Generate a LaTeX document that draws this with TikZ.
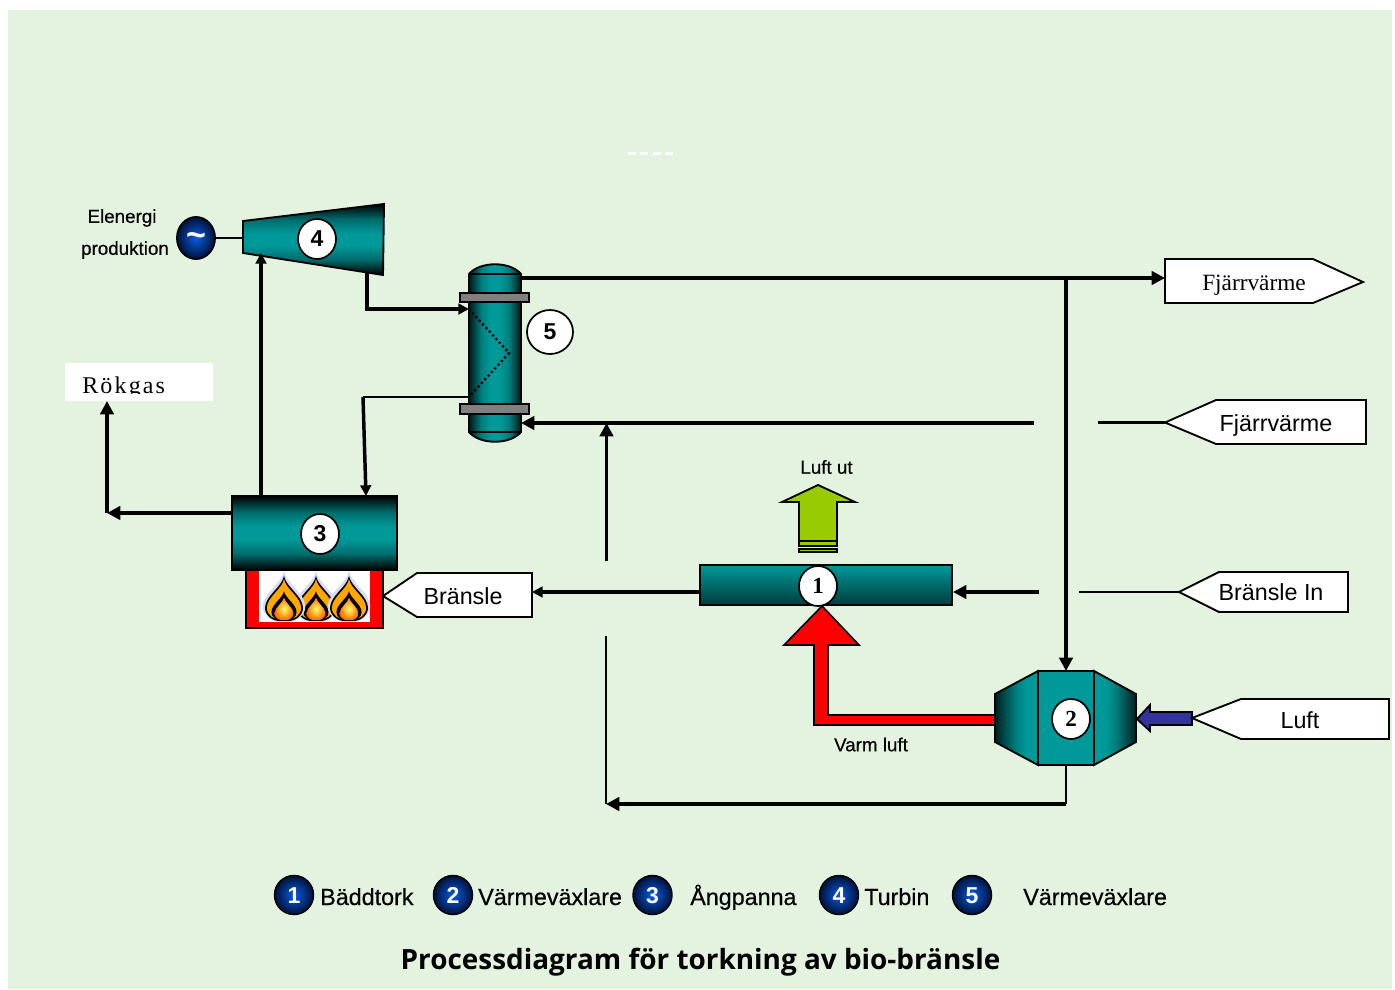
\documentclass[tikz,border=0pt]{standalone}
\usepackage{fontspec}
\usetikzlibrary{arrows.meta,shapes.geometric,calc}
\setmainfont{Liberation Sans}
\newfontfamily\heavyf[FakeBold=0.4]{Liberation Sans}
\newfontfamily\serifx{Liberation Serif}
\newfontfamily\rokf[LetterSpace=9]{Liberation Serif}
\newfontfamily\titlef{Open Sans}
\newcommand{\fpx}[1]{\pgfmathparse{#1*0.75}\fontsize{\pgfmathresult}{\pgfmathresult}\selectfont}
\newcommand{\legnum}[1]{\raisebox{-6.6pt}[0pt][0pt]{#1}}
\definecolor{bgc}{HTML}{E4F3E0}
\definecolor{tealc}{HTML}{009999}
\definecolor{dteal}{HTML}{003C3C}
\definecolor{limec}{HTML}{99CC00}
\definecolor{navyc}{HTML}{333399}
\definecolor{ballin}{HTML}{0A5AE0}
\definecolor{ballout}{HTML}{00123A}
\pgfdeclareverticalshading{tbband}{100bp}{color(0bp)=(black);color(25bp)=(black);color(36bp)=(teal!85!black);color(46bp)=(tealc);color(54bp)=(tealc);color(64bp)=(teal!85!black);color(75bp)=(black);color(100bp)=(black)}
\pgfdeclarehorizontalshading{lrband}{100bp}{color(0bp)=(black!80!teal);color(25bp)=(black!80!teal);color(37bp)=(teal);color(46bp)=(tealc);color(54bp)=(tealc);color(63bp)=(teal);color(75bp)=(black!80!teal);color(100bp)=(black!80!teal)}
\pgfdeclarehorizontalshading{outL}{100bp}{color(0bp)=(black!75!teal);color(25bp)=(black!75!teal);color(50bp)=(teal);color(62bp)=(tealc);color(100bp)=(tealc)}
\pgfdeclarehorizontalshading{outR}{100bp}{color(0bp)=(tealc);color(38bp)=(tealc);color(50bp)=(teal);color(75bp)=(black!75!teal);color(100bp)=(black!75!teal)}
\tikzset{
  x=0.75pt,y=-0.75pt,
  pipe/.style={draw=black,line width=2.8pt},
  pipeh/.style={pipe,-{Triangle[length=10pt,width=10pt]}},
  pipes/.style={pipe,line width=2.6pt,-{Triangle[length=8pt,width=8pt]}},
  thin pipe/.style={draw=black,line width=1.6pt},
  outl/.style={draw=black,line width=1.4pt,line join=miter},
  numball/.style={ellipse,draw=black,line width=1.3pt,fill=white,inner sep=0pt,minimum width=38*0.75pt,minimum height=40*0.75pt},
  numsans/.style={numball,font=\bfseries\fpx{23}},
  numserif/.style={numball,font=\serifx\bfseries\fpx{23}},
  legball/.style={circle,draw=black,line width=1.1pt,inner sep=0pt,minimum size=39*0.75pt,shading=radial,inner color=ballin,outer color=ballout,text=white,font=\bfseries\fpx{23}},
  tagtext/.style={font=\fpx{23.3},inner sep=0pt},
  tagserif/.style={font=\serifx\fpx{23.3},inner sep=0pt},
  small/.style={font=\heavyf\fpx{18.8},inner sep=0pt},
  legtext/.style={font=\heavyf\fpx{23.3},inner sep=0pt,anchor=base west},
  tagbox/.style={draw=black,line width=1.4pt,fill=white,line join=miter},
  flame/.pic={
    \def\flpath{(0,-23) .. controls (2,-12) and (19,-3) .. (19,9) .. controls (19,17) and (10,22) .. (6,22) -- (-6,22) .. controls (-10,22) and (-19,17) .. (-19,9) .. controls (-19,-3) and (-2,-12) .. (0,-23) -- cycle}
    \begin{scope}[scale=1.12,shift={(0,-2)}]\fill[cyan!30!blue!15!white] \flpath;\end{scope}
    \fill[black] \flpath;
    \begin{scope}[scale=.9,shift={(0,1)}]\fill[orange!70!yellow] \flpath;\end{scope}
    \begin{scope}[scale=.66,shift={(0,11)}]\fill[black] \flpath;\end{scope}
    \begin{scope}[scale=.5,shift={(0,20)}]\shade[inner color=yellow!60,outer color=orange!85!red] \flpath;\end{scope}
  }
}
\begin{document}
\begin{tikzpicture}
\useasboundingbox (0,0) rectangle (1395,989);
\fill[white] (0,0) rectangle (1395,989);
\fill[bgc] (8,10) rectangle (1392,989);
% faint white dashes
\foreach \a/\b in {628/636,640/648,653/661,665/673}{\fill[white] (\a,152) rectangle (\b,154.5);}

% ports
\coordinate (gR) at (216,238);
\coordinate (tL) at (243,238);
\coordinate (tOut) at (367,273);
\coordinate (tOutC) at (367,309);
\coordinate (hxIn) at (469,309);
\coordinate (tIn) at (261,253);
\coordinate (bTopL) at (261,496);
\coordinate (bTopR) at (366,496);
\coordinate (bL) at (232,513);
\coordinate (flueC) at (107,513);
\coordinate (rok) at (107,401);
\coordinate (hxOutL) at (469,397);
\coordinate (condC) at (363,397);
\coordinate (hxTop) at (521,278);
\coordinate (fjTip) at (1165,278);
\coordinate (branch) at (1066,278);
\coordinate (h2Top) at (1066,671);
\coordinate (h2Bot) at (1066,765);
\coordinate (h2BotC) at (1066,804);
\coordinate (retC) at (606,804);
\coordinate (retTop) at (606,636);
\coordinate (upBot) at (606.5,561);
\coordinate (upTop) at (606.5,423);
\coordinate (hxRet) at (521,423);
\coordinate (gapL) at (1034,423);
\coordinate (gapR) at (1098,422.5);
\coordinate (fjInTip) at (1165,422.5);
\coordinate (dL) at (699,592);
\coordinate (brEnd) at (532,592);
\coordinate (dR) at (953,592);
\coordinate (gap2L) at (1039,592);
\coordinate (gap2R) at (1079,592);
\coordinate (brInTip) at (1179,592);

% Rökgas
\fill[white] (65,363) rectangle (213,401);
\begin{scope}
\clip (65,363) rectangle (213,393);
\node[font=\rokf\fpx{24},anchor=base west,inner sep=0pt] (rokgas) at (82,393.5) {Rökgas};
\end{scope}

% turbine
\path[shading=tbband] (243,221) -- (384,204) -- (383,275) -- (243,253) -- cycle;
\draw[outl] (243,221) -- (384,204) -- (383,275) -- (243,253) -- cycle;
\node[numsans] (n4) at (317,239) {4};
% generator
\node[ellipse,draw=black,line width=1.4pt,minimum width=38*0.75pt,minimum height=42*0.75pt,inner sep=0pt,shading=radial,inner color=ballin,outer color=ballout,text=white,font=\bfseries\fpx{34}] (gen) at (196,238) {\raisebox{-6.5pt}[0pt][0pt]{\char"007E}};
\node[small] (el1) at (122,218) {Elenergi};
\node[small] (el2) at (125,250) {produktion};

% boiler & furnace
\draw[line width=1.5pt,draw=black,fill=red] (246,568) rectangle (383,628);
\fill[white] (259,569) rectangle (370,622);
\begin{scope}
\clip (259,569) rectangle (370,622);
\pic at (316,599) {flame};
\pic at (284,599) {flame};
\pic at (349,599) {flame};
\end{scope}
\node[rectangle,draw=black,line width=1.6pt,shading=tbband,minimum width=165*0.75pt,minimum height=74*0.75pt,inner sep=0pt] (boiler) at (314.5,533) {};
\node[numsans] (n3) at (320,534) {3};

% heat exchanger 5
\path[shading=lrband] (469,274) .. controls (480,261) and (510,261) .. (521,274) -- (521,432) .. controls (510,445) and (480,445) .. (469,432) -- cycle;
\draw[outl] (469,274) .. controls (480,261) and (510,261) .. (521,274) -- (521,432) .. controls (510,445) and (480,445) .. (469,432) -- cycle;
\draw[outl] (469,274) -- (521,274) (469,432) -- (521,432);
\draw[outl,fill=black!50] (460,293) rectangle (529,302);
\draw[outl,fill=black!50] (460,404) rectangle (529,414);
\draw[line width=1.7pt,dotted] (469,309) -- (509,353) -- (469,397);
\node[numsans,minimum width=46*0.75pt,minimum height=44*0.75pt] (n5) at (550,332) {5};

% dryer
\node[rectangle,draw=black,line width=1.5pt,top color=tealc,bottom color=dteal,minimum width=252.5*0.75pt,minimum height=40*0.75pt,inner sep=0pt] (dryer) at (826.2,585) {};
% green arrow
\draw[outl,fill=limec] (818,485) -- (855,502) -- (837,502) -- (837,541) -- (799,541) -- (799,502) -- (782,502) -- cycle;
\draw[outl,fill=limec] (799,541) rectangle (837,546);
\draw[outl,fill=limec] (799,549) rectangle (837,552);
\node[small] (lu) at (826.5,467) {Luft ut};
% red arrow
\draw[outl,line width=1.2pt,fill=red] (822,606) -- (859,645) -- (828,645) -- (828,715) -- (996,715) -- (996,725) -- (814,725) -- (814,645) -- (784,645) -- cycle;
\node[numserif] (n1) at (818,586) {1};
\node[small] (vl) at (871,744.5) {Varm luft};

% heat exchanger 2
\path[shading=outL] (1038,671) -- (995,694) -- (995,742) -- (1038,765) -- cycle;
\draw[outl] (1038,671) -- (995,694) -- (995,742) -- (1038,765) -- cycle;
\path[shading=outR] (1094,671) -- (1136,694) -- (1136,742) -- (1094,765) -- cycle;
\draw[outl] (1094,671) -- (1136,694) -- (1136,742) -- (1094,765) -- cycle;
\node[rectangle,draw=black,line width=1.4pt,fill=tealc,minimum width=56*0.75pt,minimum height=94*0.75pt,inner sep=0pt] (hx2) at (1066,718) {};
\node[numserif] (n2) at (1071,719) {2};
% blue arrow
\draw[outl,fill=navyc] (1137,719) -- (1150,705) -- (1150,712) -- (1192,712) -- (1192,725) -- (1150,725) -- (1150,731) -- cycle;

% tags
\draw[tagbox] (1165,259) -- (1313,259) -- (1363,282) -- (1313,303) -- (1165,303) -- cycle;
\node[tagserif] (t1) at (1254,285) {Fjärrvärme};
\draw[tagbox] (1165,422.5) -- (1216,400) -- (1366,400) -- (1366,444) -- (1216,444) -- cycle;
\node[tagtext] (t2) at (1276,425) {Fjärrvärme};
\draw[tagbox] (1179,592) -- (1219,572) -- (1348,572) -- (1348,612) -- (1219,612) -- cycle;
\node[tagtext] (t3) at (1271,592.5) {Bränsle In};
\draw[tagbox] (1192,718) -- (1241,699) -- (1389,699) -- (1389,739) -- (1241,739) -- cycle;
\node[tagtext] (t4) at (1300,720.5) {Luft};
\draw[tagbox] (383,596) -- (417,573) -- (532,573) -- (532,617) -- (417,617) -- cycle;
\node[tagtext] (t5) at (463,596.5) {Bränsle};

% connectors
\draw[thin pipe] (gR) -- (tL);
\draw[pipes,line width=2.7pt,line join=miter] (tOut) -- (tOutC) -- (hxIn);
\draw[pipes,line width=3pt] (bTopL) -- (tIn);
\draw[pipe,line width=1.6pt] (hxOutL) -- (condC);
\draw[pipes,line width=2.6pt] (condC) -- (bTopR);
\draw[pipeh,line width=3.6pt] (bL) -- (flueC);
\draw[pipeh,line width=3.6pt] (flueC) -- (rok);
\draw[pipeh] (hxTop) -- (fjTip);
\draw[pipeh,line width=2.5pt] (branch) -- (h2Top);
\draw[pipeh,line width=2.6pt] (gapL) -- (hxRet);
\draw[pipeh,line width=2.5pt] (upBot) -- (upTop);
\draw[thin pipe] (gapR) -- (fjInTip);
\draw[thin pipe] (retTop) -- (retC);
\draw[thin pipe] (h2Bot) -- (h2BotC);
\draw[pipeh] (h2BotC) -- (retC);
\draw[pipes,line width=2.6pt] (dL) -- (brEnd);
\draw[pipeh,line width=2.6pt] (gap2L) -- (dR);
\draw[thin pipe,line width=1.2pt] (gap2R) -- (brInTip);

% legend
\node[legball] (l1) at (294,895) {\legnum{1}};
\node[legtext] (lt1) at (320,905) {Bäddtork};
\node[legball] (l2) at (453,895) {\legnum{2}};
\node[legtext] (lt2) at (478,905) {Värmeväxlare};
\node[legball] (l3) at (652.5,895) {\legnum{3}};
\node[legtext] (lt3) at (690,905) {Ångpanna};
\node[legball] (l4) at (839,895) {\legnum{4}};
\node[legtext] (lt4) at (864,905) {Turbin};
\node[legball] (l5) at (972,895) {\legnum{5}};
\node[legtext] (lt5) at (1023,905) {Värmeväxlare};
\node[font=\titlef\bfseries\fpx{27.9},inner sep=0pt] (title) at (700.5,962.5) {Processdiagram för torkning av bio-bränsle};
\end{tikzpicture}
\end{document}
